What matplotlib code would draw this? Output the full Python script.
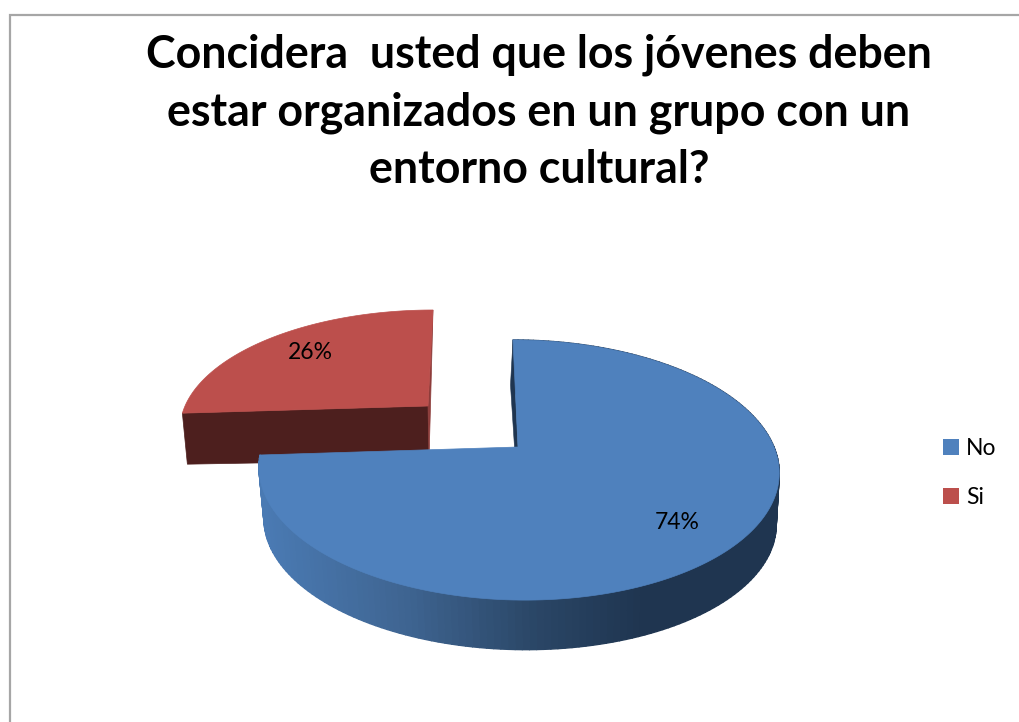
import numpy as np
import matplotlib
matplotlib.use("Agg")
import matplotlib.pyplot as plt
from matplotlib.collections import PolyCollection
from matplotlib.colors import LinearSegmentedColormap
from matplotlib.patches import Patch, Polygon

# Data
title_lines = ["Concidera  usted que los jóvenes deben",
               "estar organizados en un grupo con un",
               "entorno cultural?"]
categories = ["No", "Si"]
percentages = [74, 26]

plt.rcParams['font.family'] = ['Lato', 'DejaVu Sans']

BLUE, RED, RED_DARK, RED_EDGE = "#4F81BD", "#BC4F4C", "#4D1F1E", "#8D3C3A"
wall_cmap = LinearSegmentedColormap.from_list(
    "wall", [(0.0, "#4A7AB3"), (0.27, "#3F6592"), (0.53, "#2A4666"), (0.74, "#1F3550"), (1.0, "#1F3550")])

fig = plt.figure(figsize=(10.19, 7.22), dpi=100)
ax = fig.add_axes([0, 0, 1, 1])
ax.set_xlim(0, 1019)
ax.set_ylim(722, 0)
ax.axis("off")

K = 0.177


def project(deg, r, cx, cy, A, B, S):
    """Perspective view of a disc; deg runs clockwise from the top."""
    t = np.radians(deg)
    u, v = r * np.sin(t), r * np.cos(t)
    w = 1 + K * v
    return np.column_stack([cx + (A * u + S * v) / w, cy - B * v / w])


fractions = np.array(percentages) / sum(percentages)
sweep_no = 360 * fractions[0]
sweep_si = 360 * fractions[1]

# Frame
ax.plot([1019, 10, 10], [15, 15, 722], color="#A6A6A6", lw=1.6, solid_joinstyle="miter", zorder=1)

# Si slice (exploded towards the back left)
si_top = dict(cx=428, cy=406, A=243, B=113, S=5.9)
si_deg = np.linspace(360 - sweep_si, 360, 80)
si_rim = project(si_deg, 1, **si_top)
si_apex = np.array([si_top["cx"], si_top["cy"]])
end = si_rim[0]
ax.add_patch(Polygon([end, si_apex, si_apex + (1, 54), end + (5, 51)], fc=RED_DARK, ec=RED_DARK, lw=0.5, zorder=2))
ax.add_patch(Polygon([si_rim[-1], si_apex, si_apex + (1, 54), si_apex + (2.5, 0)], fc=RED_EDGE, ec=RED_EDGE, lw=0.5, zorder=2))
ax.add_patch(Polygon(np.vstack([si_apex, si_rim]), fc=RED, ec=RED, lw=0.5, zorder=3))

# No slice
no_top = dict(cx=518, cy=447, A=256, B=126, S=-5.9)
no_bot = dict(cx=519, cy=499, A=252, B=124, S=-5.9)
no_deg = np.linspace(0, sweep_no, 200)
rim_top = project(no_deg, 1, **no_top)
rim_bot = project(no_deg, 1, **no_bot)
quads = np.stack([rim_top[:-1], rim_top[1:], rim_bot[1:], rim_bot[:-1]], axis=1)
wall_x = (quads[:, :, 0].mean(axis=1) - 265) / (775 - 265)
cols = wall_cmap(np.clip(wall_x, 0, 1))
ax.add_collection(PolyCollection(quads, facecolors=cols, edgecolors=cols, linewidths=1.0, zorder=4))
no_apex = np.array([no_top["cx"], no_top["cy"]])
start = rim_top[0]
ax.add_patch(Polygon([start, no_apex, no_apex + (-3.5, 0), start + (-2.5, 45)], fc="#1F3550", ec="#1F3550", lw=0.4, zorder=4))
ax.add_patch(Polygon(np.vstack([no_apex, rim_top]), fc=BLUE, ec=BLUE, lw=0.5, zorder=5))

# Percentage labels
p_no = project(sweep_no / 2, 0.76, **no_top)[0]
p_si = project(360 - sweep_si / 2, 0.75, **si_top)[0]
ax.text(p_no[0], p_no[1] + 3, f"{percentages[0]}%", ha="center", va="center", fontsize=16.5, color="black", zorder=6)
ax.text(p_si[0] + 1, p_si[1], f"{percentages[1]}%", ha="center", va="center", fontsize=16.5, color="black", zorder=6)

# Title
for line, y in zip(title_lines, [67, 125, 183]):
    ax.text(539, y, line, ha="center", va="baseline", fontsize=32.2, fontweight="bold", color="black", zorder=6)

# Legend
handles = [Patch(fc=BLUE, ec="none"), Patch(fc=RED, ec="none")]
ax.legend(handles, categories, loc="upper left", bbox_to_anchor=(943 / 1019, 1 - 438 / 722),
          bbox_transform=fig.transFigure, frameon=False, fontsize=16.5, handlelength=0.68, handleheight=0.68,
          handletextpad=0.33, labelspacing=1.23, borderpad=0, borderaxespad=0)

fig.savefig("out.png", dpi=100)
